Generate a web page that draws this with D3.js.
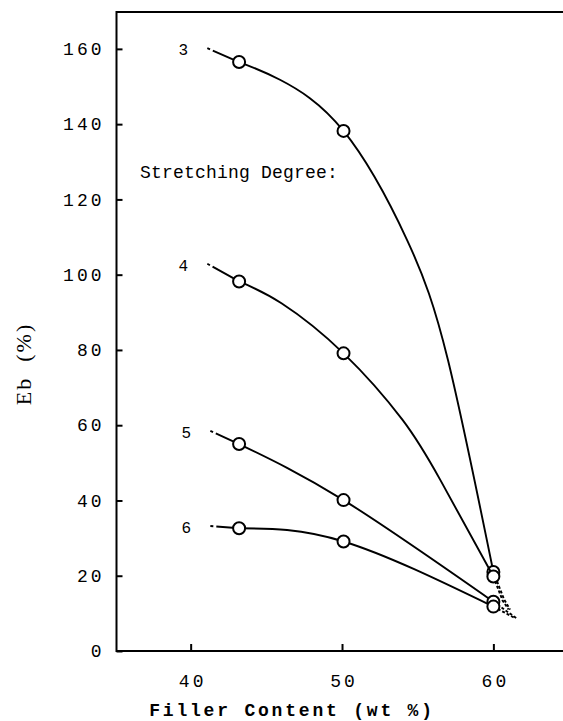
<!DOCTYPE html>
<meta charset="utf-8">
<style>
body { margin: 0; background: #fff; }
svg { display: block; }
.tick text { font: 18px "Liberation Mono", monospace; letter-spacing: 3px; fill: #000; }
.tick line { stroke: #000; stroke-width: 2px; }
.frame { stroke: #000; stroke-width: 2px; fill: none; }
.curve { stroke: #000; stroke-width: 1.9px; fill: none; }
.pt { fill: #fff; stroke: #000; stroke-width: 2px; }
.lbl { font: 16px "Liberation Mono", monospace; fill: #000; }
</style>
<svg width="563" height="721"></svg>
<script src="https://d3js.org/d3.v7.min.js"></script>
<script>

// stretching degrees and the filler content of the measured samples
var degrees = ["3", "4", "5", "6"];
var filler = [43.2, 50.1, 60];

// Eb (%) at each filler content
var eb3 = [156.5, 138.2, 21.0];
var eb4 = [98.2, 79.1, 19.8];
var eb5 = [55.0, 40.1, 13.1];
var eb6 = [32.6, 29.1, 11.8];

// where the dotted lead-in of each curve starts
var leadIn = [[41.1, 160.2], [41.1, 102.9], [41.3, 58.5], [41.3, 33.2]];

// points traced along the fitted curves between the markers
var trace3 = [[45.9, 151.8], [54.3, 109.2], [57.0, 77.3]];
var trace4 = [[46.0, 92.4], [54.0, 61.4], [56.5, 45.4]];
var trace5 = [];
var trace6 = [];

// dashed tails past 60 wt %
var tail3 = [[60.7, 13.8], [61.1, 11.0]];
var tail4 = [[60.6, 13.5], [61.0, 11.0]];
var tail5 = [[61.6, 8.5]];
var tail6 = [[61.4, 8.8]];

var xTicks = [40, 50, 60];
var yTicks = [0, 20, 40, 60, 80, 100, 120, 140, 160];

var svg = d3.select("svg");
var mLeft = 116.5, mTop = 12, mRight = 563, mBottom = 651;

var x = d3.scaleLinear().domain([35.1, 64.6]).range([mLeft, mRight]);
var y = d3.scaleLinear().domain([0, 169.8]).range([mBottom, mTop]);

svg.append("g")
	.attr("transform", "translate(" + mLeft + ",0)")
	.call(d3.axisLeft(y).tickValues(yTicks).tickSize(-6).tickPadding(12))
	.call(g => g.select(".domain").remove());

svg.append("g")
	.attr("transform", "translate(0," + mBottom + ")")
	.call(d3.axisBottom(x).tickValues(xTicks).tickSize(-7).tickPadding(23))
	.call(g => g.select(".domain").remove())
	.call(g => g.selectAll(".tick text").attr("dx", 1.5));

svg.append("path")
	.attr("class", "frame")
	.attr("d", "M" + mRight + "," + mTop + "H" + mLeft + "V" + mBottom + "H" + mRight);

var series = [
	{ name: degrees[0], eb: eb3, trace: trace3, tail: tail3, lead: leadIn[0] },
	{ name: degrees[1], eb: eb4, trace: trace4, tail: tail4, lead: leadIn[1] },
	{ name: degrees[2], eb: eb5, trace: trace5, tail: tail5, lead: leadIn[2] },
	{ name: degrees[3], eb: eb6, trace: trace6, tail: tail6, lead: leadIn[3] }
];

var line = d3.line()
	.x(d => x(d[0]))
	.y(d => y(d[1]))
	.curve(d3.curveNatural);

var straight = d3.line().x(d => x(d[0])).y(d => y(d[1]));

series.forEach(function(s) {
	var marks = filler.map((f, i) => [f, s.eb[i]]);
	var main = marks.concat(s.trace).sort((a, b) => a[0] - b[0]);

	// dotted lead-in
	svg.append("path")
		.attr("class", "curve")
		.attr("stroke-dasharray", "3,3,400")
		.attr("d", straight([s.lead, marks[0]]));

	svg.append("path")
		.attr("class", "curve")
		.attr("d", line(main));

	// dashed tail
	svg.append("path")
		.attr("class", "curve")
		.attr("stroke-dasharray", "3,2")
		.attr("d", straight([marks[2]].concat(s.tail)));

	svg.selectAll(null)
		.data(marks)
		.enter()
		.append("circle")
		.attr("class", "pt")
		.attr("cx", d => x(d[0]))
		.attr("cy", d => y(d[1]))
		.attr("r", 6);

	svg.append("text")
		.attr("class", "lbl")
		.attr("text-anchor", "middle")
		.attr("x", x(s.lead[0]) - 24)
		.attr("y", y(s.lead[1]) + 7)
		.text(s.name);
});

svg.append("text")
	.attr("x", 140)
	.attr("y", 178)
	.style("font", "18px 'Liberation Mono', monospace")
	.style("letter-spacing", "0.2px")
	.text("Stretching Degree:");

svg.append("text")
	.attr("text-anchor", "middle")
	.attr("transform", "translate(31,364) rotate(-90)")
	.style("font", "22px 'Liberation Serif', serif")
	.style("letter-spacing", "2px")
	.style("white-space", "pre")
	.text("Eb  (%)");

svg.append("text")
	.attr("x", 292)
	.attr("y", 716)
	.attr("text-anchor", "middle")
	.style("font", "bold 18px 'Liberation Mono', monospace")
	.style("letter-spacing", "2.8px")
	.text("Filler Content (wt %)");

</script>
